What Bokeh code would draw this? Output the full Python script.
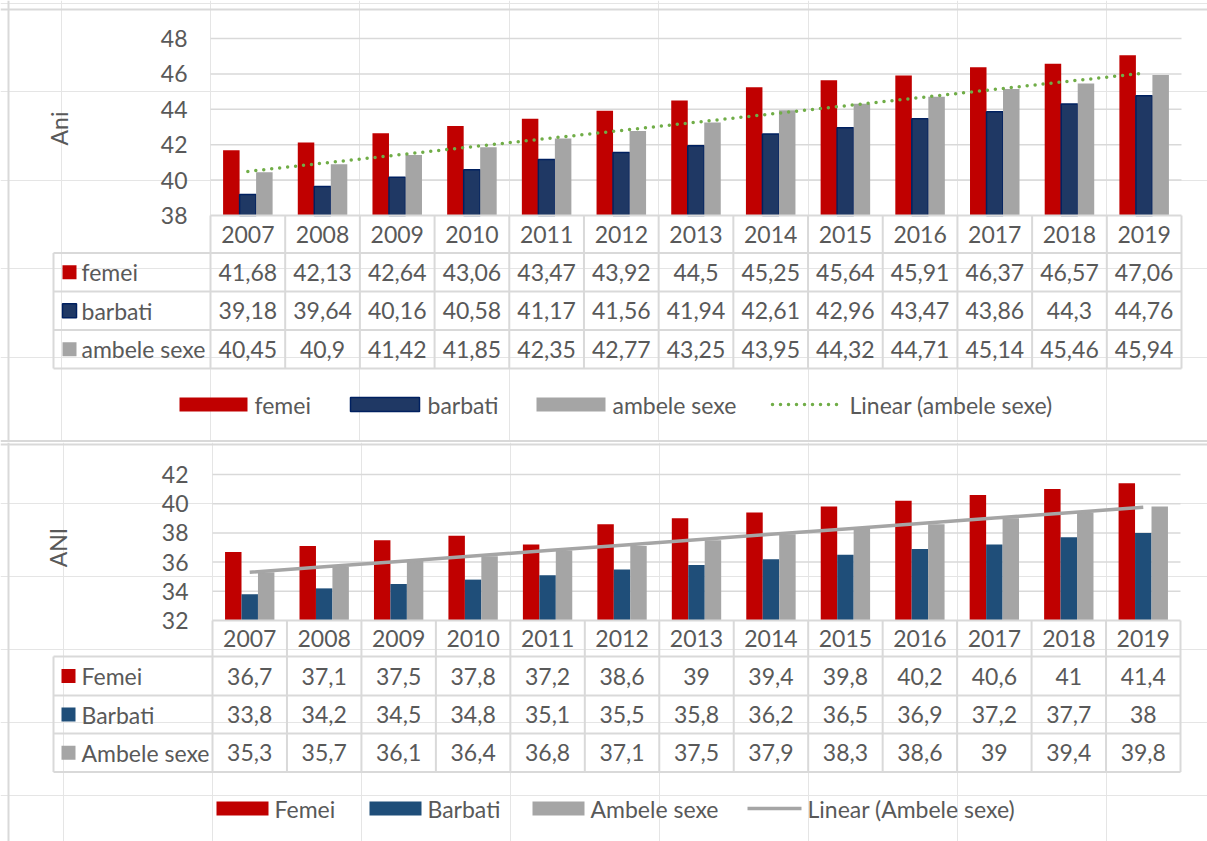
import numpy as np
from bokeh.plotting import figure
from bokeh.models import Range1d, Span
from bokeh.layouts import column
from bokeh.embed import file_html
from bokeh.resources import INLINE
from bokeh.core.properties import value

# ---------------- data ----------------
years = ["2007", "2008", "2009", "2010", "2011", "2012", "2013",
         "2014", "2015", "2016", "2017", "2018", "2019"]

top_names = ["femei", "barbati", "ambele sexe"]
top_femei = [41.68, 42.13, 42.64, 43.06, 43.47, 43.92, 44.5, 45.25, 45.64, 45.91, 46.37, 46.57, 47.06]
top_barbati = [39.18, 39.64, 40.16, 40.58, 41.17, 41.56, 41.94, 42.61, 42.96, 43.47, 43.86, 44.3, 44.76]
top_ambele = [40.45, 40.9, 41.42, 41.85, 42.35, 42.77, 43.25, 43.95, 44.32, 44.71, 45.14, 45.46, 45.94]
top_ticks = [38, 40, 42, 44, 46, 48]
top_ylabel = "Ani"
top_trend_label = "Linear (ambele sexe)"

bot_names = ["Femei", "Barbati", "Ambele sexe"]
bot_femei = [36.7, 37.1, 37.5, 37.8, 37.2, 38.6, 39, 39.4, 39.8, 40.2, 40.6, 41, 41.4]
bot_barbati = [33.8, 34.2, 34.5, 34.8, 35.1, 35.5, 35.8, 36.2, 36.5, 36.9, 37.2, 37.7, 38]
bot_ambele = [35.3, 35.7, 36.1, 36.4, 36.8, 37.1, 37.5, 37.9, 38.3, 38.6, 39, 39.4, 39.8]
bot_ticks = [32, 34, 36, 38, 40, 42]
bot_ylabel = "ANI"
bot_trend_label = "Linear (Ambele sexe)"

FONT = value("Lato")
FS = "23px"
TXT = "#595959"
GRID = "#D9D9D9"
W = 1207
ORIGIN_X = 0


def fmt(v):
    return f"{v:g}".replace(".", ",")


def make_chart(cfg):
    L, R, T, B = cfg["L"], cfg["R"], cfg["T"], cfg["B"]
    vmin, vmax = cfg["ticks"][0], cfg["ticks"][-1]
    n = len(years)
    cw = (R - L) / n
    vs = (B - T) / (vmax - vmin)

    def X(px):
        return (px - L) / cw

    def Y(py):
        return vmin - (py - B) / vs

    top_px, H = cfg["top_px"], cfg["height"]
    p = figure(width=W, height=H,
               x_range=Range1d(X(ORIGIN_X), X(ORIGIN_X + W)),
               y_range=Range1d(Y(top_px + H), Y(top_px)),
               output_backend="svg", toolbar_location=None,
               x_axis_location=None, y_axis_location=None, min_border=0)
    p.outline_line_color = None
    p.background_fill_color = "white"
    p.border_fill_color = "white"

    # chart border (left, top, bottom)
    for loc, dim in cfg["borders"]:
        if dim == "height":
            p.add_layout(Span(location=X(loc), dimension="height", line_color=GRID, line_width=2))
        else:
            p.add_layout(Span(location=Y(loc), dimension="width", line_color=GRID, line_width=2))

    ticks = cfg["ticks"]
    # gridlines
    p.segment(x0=[0] * (len(ticks) - 1), x1=[n] * (len(ticks) - 1),
              y0=ticks[1:], y1=ticks[1:], line_color=GRID, line_width=1.5)

    # bars
    centers = np.arange(n) + 0.5
    bw = cfg["bw"]
    offs = [-bw, 0, bw]
    for j, vals in enumerate(cfg["series"]):
        p.vbar(x=centers + offs[j], top=vals, bottom=vmin, width=bw,
               fill_color=cfg["colors"][j],
               line_color=cfg["outlines"][j] if cfg["outlines"][j] else None,
               line_width=1.5)

    # linear trend of the third series
    coef = np.polyfit(centers, cfg["series"][2], 1)
    p.line(centers, np.polyval(coef, centers), **cfg["trend_style"])

    # tick labels
    p.text(x=[X(cfg["tick_right"])] * len(ticks), y=ticks, text=[str(t) for t in ticks],
           text_align="right", text_baseline="middle", text_font=FONT,
           text_font_size=FS, text_color=TXT)
    # y-axis title
    p.text(x=[X(cfg["ylab_x"])], y=[Y(cfg["ylab_y"])], text=[cfg["ylabel"]], angle=np.pi / 2,
           text_align="center", text_baseline="middle", text_font=FONT,
           text_font_size=FS, text_color=TXT)

    # data table
    rows = cfg["rows"]
    tl = X(cfg["table_left"])
    p.segment(x0=[0] + [tl] * (len(rows) - 1), x1=[n] * len(rows),
              y0=[Y(r) for r in rows], y1=[Y(r) for r in rows],
              line_color=GRID, line_width=2)
    p.segment(x0=list(range(n + 1)) + [tl], x1=list(range(n + 1)) + [tl],
              y0=[Y(rows[0])] * (n + 1) + [Y(rows[1])], y1=[Y(rows[-1])] * (n + 2),
              line_color=GRID, line_width=2)
    p.text(x=centers, y=[Y((rows[0] + rows[1]) / 2)] * n, text=years,
           text_align="center", text_baseline="middle", text_font=FONT,
           text_font_size=FS, text_color=TXT)
    for j, vals in enumerate(cfg["series"]):
        yc = Y((rows[j + 1] + rows[j + 2]) / 2)
        p.text(x=centers, y=[yc] * n, text=[fmt(v) for v in vals],
               text_align="center", text_baseline="middle", text_font=FONT,
               text_font_size=FS, text_color=TXT)
        kx0, kx1 = cfg["key_x"]
        p.rect(x=[X((kx0 + kx1) / 2)], y=[yc], width=(kx1 - kx0) / cw, height=14 / vs,
               fill_color=cfg["colors"][j],
               line_color=cfg["outlines"][j] if cfg["outlines"][j] else None, line_width=1.5)
        p.text(x=[X(cfg["label_x"])], y=[yc], text=[cfg["names"][j]],
               text_align="left", text_baseline="middle", text_font=FONT,
               text_font_size=FS, text_color=TXT)

    # legend
    ly = Y(cfg["legend_y"])
    for j, (a, b, tx) in enumerate(cfg["legend"][:3]):
        p.rect(x=[X((a + b) / 2)], y=[ly], width=(b - a) / cw, height=14 / vs,
               fill_color=cfg["colors"][j],
               line_color=cfg["outlines"][j] if cfg["outlines"][j] else None, line_width=1.5)
        p.text(x=[X(tx)], y=[ly], text=[cfg["names"][j]], text_align="left",
               text_baseline="middle", text_font=FONT, text_font_size=FS, text_color=TXT)
    a, b, tx = cfg["legend"][3]
    p.line([X(a), X(b)], [ly, ly], **cfg["trend_style"])
    p.text(x=[X(tx)], y=[ly], text=[cfg["trend_label"]], text_align="left",
           text_baseline="middle", text_font=FONT, text_font_size=FS, text_color=TXT)
    return p


top_cfg = dict(
    top_px=0, height=442, L=210, R=1181, T=38, B=215, ticks=top_ticks,
    series=[top_femei, top_barbati, top_ambele], names=top_names,
    colors=["#C00000", "#1F3864", "#A5A5A5"], outlines=[None, "#002060", None],
    bw=0.221,
    trend_style=dict(line_color="#70AD47", line_width=3.5, line_dash="0 8", line_cap="round"),
    tick_right=187, ylab_x=58, ylab_y=128, ylabel=top_ylabel,
    rows=[215, 252.5, 291, 329.5, 368], table_left=53, key_x=(62, 76), label_x=81,
    legend_y=404,
    legend=[(179, 247, 254), (350, 419, 427), (536, 605, 612), (772, 842, 849)],
    trend_label=top_trend_label,
    borders=[(8, "height"), (9, "width"), (440.5, "width")],
)

bot_cfg = dict(
    top_px=442, height=399, L=212, R=1180, T=474, B=620, ticks=bot_ticks,
    series=[bot_femei, bot_barbati, bot_ambele], names=bot_names,
    colors=["#C00000", "#1F4E79", "#A5A5A5"], outlines=[None, None, None],
    bw=0.221,
    trend_style=dict(line_color="#A5A5A5", line_width=3.5),
    tick_right=188, ylab_x=57, ylab_y=547, ylabel=bot_ylabel,
    rows=[620, 656, 695, 733, 771.5], table_left=53, key_x=(61, 75), label_x=81,
    legend_y=808,
    legend=[(216, 268, 274), (369, 421, 427), (532, 584, 590), (747, 801, 807)],
    trend_label=bot_trend_label,
    borders=[(8, "height"), (444, "width")],
)

p1 = make_chart(top_cfg)
p2 = make_chart(bot_cfg)
layout = column(p1, p2, spacing=0)

open("out.html", "w").write(file_html(layout, INLINE))
